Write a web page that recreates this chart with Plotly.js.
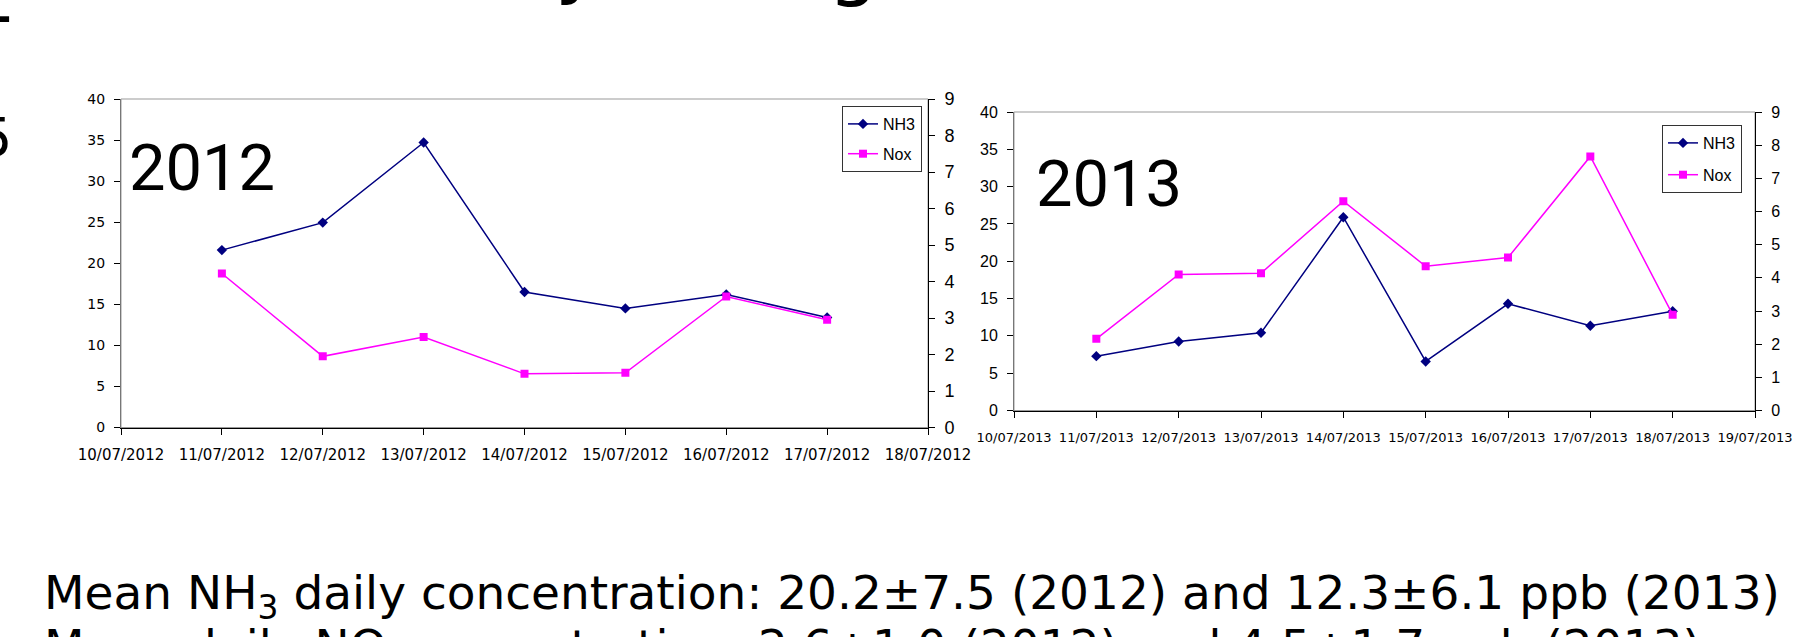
<!DOCTYPE html>
<html>
<head>
<meta charset="utf-8">
<script src="https://cdn.plot.ly/plotly-3.0.1.min.js"></script>
<style>html,body{margin:0;padding:0;background:#fff;}#chart{width:1800px;height:637px;}</style>
</head>
<body>
<div id="chart"></div>
<script>
// ---- data ----
const dates2012 = ['2012-07-11','2012-07-12','2012-07-13','2012-07-14','2012-07-15','2012-07-16','2012-07-17'];
const nh3_2012 = [21.6, 24.95, 34.7, 16.5, 14.5, 16.2, 13.4];
const nox_2012 = [4.22, 1.95, 2.48, 1.47, 1.50, 3.59, 2.95];

const dates2013 = ['2013-07-11','2013-07-12','2013-07-13','2013-07-14','2013-07-15','2013-07-16','2013-07-17','2013-07-18'];
const nh3_2013 = [7.28, 9.25, 10.41, 25.9, 6.57, 14.3, 11.35, 13.3];
const nox_2013 = [2.16, 4.10, 4.14, 6.31, 4.35, 4.61, 7.66, 2.89];

const range2012 = ['2012-07-10','2012-07-18'];
const range2013 = ['2013-07-10','2013-07-19'];
const seriesNames = ['NH3','Nox'];
const yearLabels = ['2012','2013'];
const line1 = 'Mean NH<sub>3</sub> daily concentration: 20.2±7.5 (2012) and 12.3±6.1 ppb (2013)';
const line2 = 'Mean daily NO concentration: 2.6±1.0 (2012) and 4.5±1.7 ppb (2013)';
// fragments of surrounding slide text, cut by the picture edges
const fragments = ['–', '5', 'y', 'g'];

// ---- layout helpers ----
const W = 1800, H = 637;
const px = v => v / W;
const py = v => 1 - v / H;

const navy = '#000080', magenta = '#FF00FF';
const verdana = 'DejaVu Sans, Verdana, sans-serif';
const arial = 'Liberation Sans, Arial, sans-serif';
const comic = 'Comic Sans MS, Roboto, sans-serif';
const comicWide = 'Comic Sans MS, DejaVu Sans, sans-serif';

function nh3Trace(x, y, xa, ya, lg) {
  return {x: x, y: y, xaxis: xa, yaxis: ya, name: seriesNames[0], legend: lg, legendgroup: lg + 'a',
    mode: 'lines+markers', type: 'scatter',
    line: {color: navy, width: 1.5}, marker: {symbol: 'diamond', size: 8, color: navy}};
}
function noxTrace(x, y, xa, ya, lg) {
  return {x: x, y: y, xaxis: xa, yaxis: ya, name: seriesNames[1], legend: lg, legendgroup: lg + 'b',
    mode: 'lines+markers', type: 'scatter',
    line: {color: magenta, width: 1.5}, marker: {symbol: 'square', size: 8, color: magenta}};
}

const data = [
  nh3Trace(dates2012, nh3_2012, 'x', 'y', 'legend'),
  noxTrace(dates2012, nox_2012, 'x', 'y2', 'legend'),
  nh3Trace(dates2013, nh3_2013, 'x2', 'y3', 'legend2'),
  noxTrace(dates2013, nox_2013, 'x2', 'y4', 'legend2')
];

const xCommon = {type: 'date', dtick: 86400000, tickformat: '%d/%m/%Y', showgrid: false, zeroline: false,
  showline: true, linecolor: '#000', linewidth: 1, ticks: 'outside', ticklen: 6, tickcolor: '#000'};
const yCommon = {showgrid: false, zeroline: false, showline: true, linewidth: 1,
  ticks: 'outside', ticklen: 6, tickcolor: '#000'};

function ann(text, x, y, xanchor, size, family) {
  return {text: text, xref: 'paper', yref: 'paper', x: px(x), y: py(y), xanchor: xanchor, yanchor: 'middle',
    showarrow: false, font: {family: family, size: size, color: '#000'}};
}

const layout = {
  width: W, height: H,
  margin: {l: 0, r: 0, t: 0, b: 0},
  paper_bgcolor: '#fff', plot_bgcolor: '#fff',
  showlegend: true,
  xaxis: Object.assign({}, xCommon, {domain: [px(121), px(928)], anchor: 'y', range: range2012, tick0: range2012[0],
    tickfont: {family: verdana, size: 15, color: '#000'}, ticklabelstandoff: 7}),
  yaxis: Object.assign({}, yCommon, {domain: [py(427.5), py(99)], anchor: 'x', range: [0, 40], dtick: 5,
    linecolor: '#777', tickfont: {family: verdana, size: 14, color: '#000'}, ticklabelstandoff: 6}),
  yaxis2: Object.assign({}, yCommon, {overlaying: 'y', side: 'right', anchor: 'x', range: [0, 9], dtick: 1,
    linecolor: '#000', tickfont: {family: arial, size: 18, color: '#000'}, ticklabelstandoff: 6}),
  xaxis2: Object.assign({}, xCommon, {domain: [px(1014), px(1755)], anchor: 'y3', range: range2013, tick0: range2013[0],
    tickfont: {family: verdana, size: 13, color: '#000'}, ticklabelstandoff: 9}),
  yaxis3: Object.assign({}, yCommon, {domain: [py(410.5), py(112)], anchor: 'x2', range: [0, 40], dtick: 5,
    linecolor: '#777', tickfont: {family: arial, size: 16, color: '#000'}, ticklabelstandoff: 6}),
  yaxis4: Object.assign({}, yCommon, {overlaying: 'y3', side: 'right', anchor: 'x2', range: [0, 9], dtick: 1,
    linecolor: '#000', tickfont: {family: arial, size: 16, color: '#000'}, ticklabelstandoff: 6}),
  legend: {x: px(842), y: py(106), xanchor: 'left', yanchor: 'top', bgcolor: '#fff', bordercolor: '#333', borderwidth: 1,
    font: {family: arial, size: 16, color: '#000'}, traceorder: 'grouped', tracegroupgap: 6},
  legend2: {x: px(1662), y: py(125), xanchor: 'left', yanchor: 'top', bgcolor: '#fff', bordercolor: '#333', borderwidth: 1,
    font: {family: arial, size: 16, color: '#000'}, traceorder: 'grouped', tracegroupgap: 8},
  shapes: [
    {type: 'rect', xref: 'x domain', yref: 'y domain', x0: 0, x1: 1, y0: 0, y1: 1, line: {color: '#999', width: 1}, layer: 'below'},
    {type: 'rect', xref: 'x2 domain', yref: 'y3 domain', x0: 0, x1: 1, y0: 0, y1: 1, line: {color: '#999', width: 1}, layer: 'below'}
  ],
  annotations: [
    ann(yearLabels[0], 202, 168, 'center', 65, comic),
    ann(yearLabels[1], 1109, 184, 'center', 65, comic),
    ann(line1, 42, 596, 'left', 47, comicWide),
    ann(line2, 42, 646, 'left', 47, comicWide),
    ann(fragments[0], 15, 13, 'right', 80, comicWide),
    ann(fragments[1], 14, 138, 'right', 54, comicWide),
    ann(fragments[2], 578, -40, 'center', 80, comicWide),
    ann(fragments[3], 853, -38, 'center', 80, comicWide)
  ]
};

Plotly.newPlot('chart', data, layout, {displayModeBar: false, staticPlot: true});
</script>
</body>
</html>
